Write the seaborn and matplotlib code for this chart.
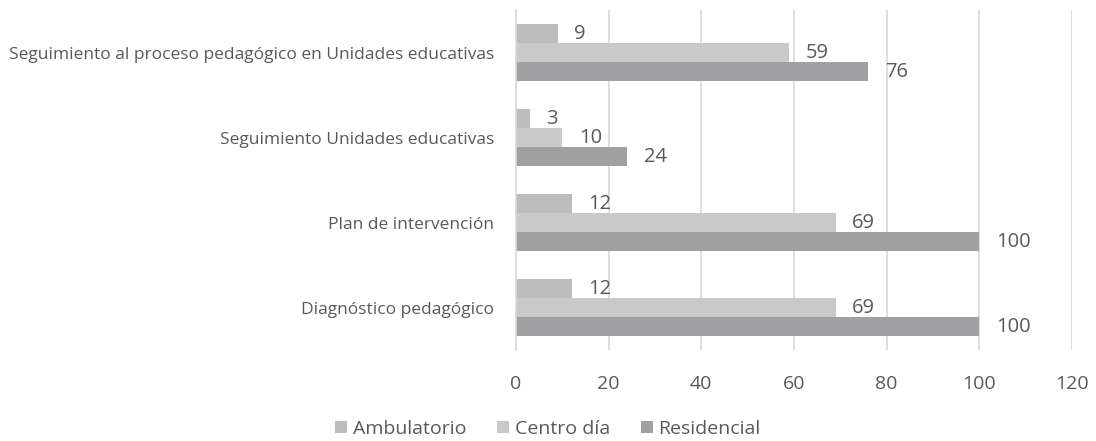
import matplotlib
matplotlib.use("Agg")
import matplotlib.pyplot as plt
import pandas as pd
import seaborn as sns

# Chart data
categories = [
    "Seguimiento al proceso pedagógico en Unidades educativas",
    "Seguimiento Unidades educativas",
    "Plan de intervención",
    "Diagnóstico pedagógico",
]
series = ["Ambulatorio", "Centro día", "Residencial"]
ambulatorio = [9, 3, 12, 12]
centro_dia = [59, 10, 69, 69]
residencial = [76, 24, 100, 100]
x_ticks = [0, 20, 40, 60, 80, 100, 120]

colors = ["#bcbcbe", "#c9c9c9", "#a0a0a2"]
text_color = "#595959"

rows = []
for name, vals in zip(series, [ambulatorio, centro_dia, residencial]):
    for cat, v in zip(categories, vals):
        rows.append({"categoria": cat, "serie": name, "valor": v})
df = pd.DataFrame(rows)

sns.set_style("white")
plt.rcParams["font.family"] = ["Open Sans", "DejaVu Sans"]

fig = plt.figure(figsize=(10.96, 4.41), dpi=100)
ax = fig.add_axes([0.4708, 0.2063, 0.5072, 0.7707])

sns.barplot(
    data=df, y="categoria", x="valor", hue="serie", order=categories,
    hue_order=series, palette=colors, orient="h", width=0.67,
    saturation=1, linewidth=0, ax=ax, legend=True,
)

for c in ax.containers:
    labels = ax.bar_label(c, fmt="%d", padding=12, fontsize=14.5, color=text_color)
    for t in labels:
        t.set_y(t.get_position()[1])
        t.set_verticalalignment("center")
        t.set_transform(t.get_transform() + matplotlib.transforms.ScaledTranslation(0, -2 / 100, fig.dpi_scale_trans))

ax.set_xlim(0, 120)
ax.set_ylim(3.5, -0.5)
ax.set_xticks(x_ticks)
ax.set_xlabel("")
ax.set_ylabel("")
ax.grid(axis="x", color="#d9d9d9", linewidth=1.2)
ax.set_axisbelow(True)
for s in ["top", "right", "bottom"]:
    ax.spines[s].set_visible(False)
ax.spines["left"].set_color("#d9d9d9")
ax.spines["left"].set_linewidth(1.2)
ax.tick_params(axis="x", length=0, pad=18, labelsize=14, labelcolor=text_color)
ax.tick_params(axis="y", length=0, pad=16, labelsize=12.5, labelcolor=text_color)

handles, labels = ax.get_legend_handles_labels()
ax.legend(
    handles, labels, loc="lower center", bbox_to_anchor=(0.5, -0.015),
    bbox_transform=fig.transFigure, ncol=3, frameon=False, fontsize=14,
    labelcolor=text_color, handlelength=0.6, handleheight=0.6,
    handletextpad=0.3, columnspacing=1.6, borderaxespad=0.1,
)

fig.savefig("out.png", dpi=100)
